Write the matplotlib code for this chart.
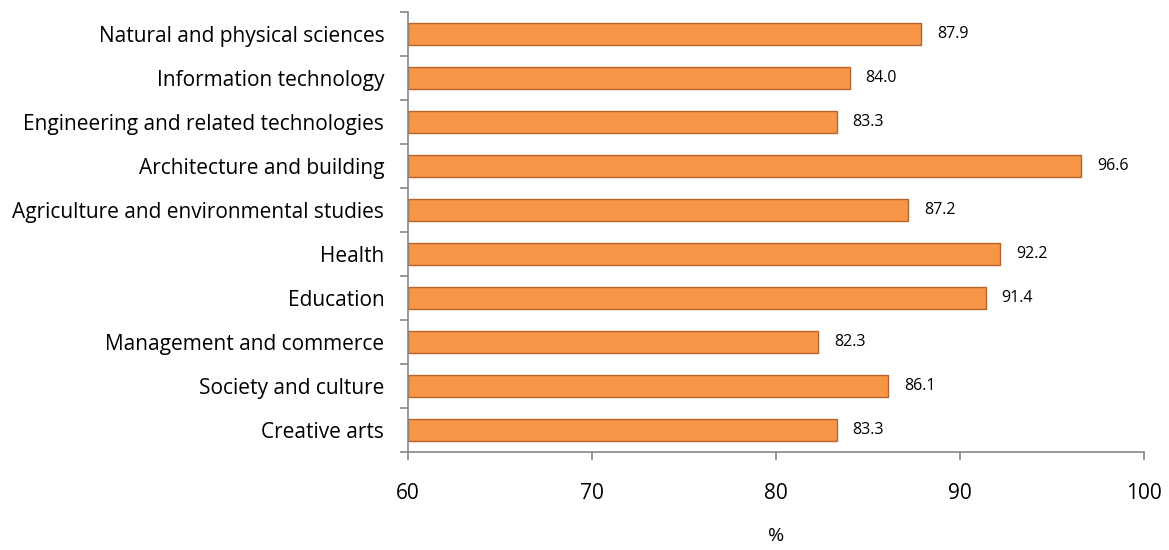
import matplotlib
matplotlib.use('Agg')
from matplotlib import pyplot as plt

plt.rcParams['font.family'] = ['Open Sans', 'DejaVu Sans']

categories = ['Natural and physical sciences', 'Information technology',
              'Engineering and related technologies', 'Architecture and building',
              'Agriculture and environmental studies', 'Health', 'Education',
              'Management and commerce', 'Society and culture', 'Creative arts']
values = [87.9, 84.0, 83.3, 96.6, 87.2, 92.2, 91.4, 82.3, 86.1, 83.3]
xticks = [60, 70, 80, 90, 100]

fig = plt.figure(figsize=(11.69, 5.5), dpi=100)
ax = fig.add_axes([0.349, 0.1782, 0.6296, 0.8])

pos = list(range(len(categories)))[::-1]
ax.barh(pos, [v - 60 for v in values], left=60, height=0.52,
        color='#F79646', edgecolor='#B9652A', linewidth=1)

for p, v in zip(pos, values):
    ax.text(v + 0.85, p, '%.1f' % v, va='center', ha='left', fontsize=11.5)

ax.set_xlim(60, 100)
ax.set_ylim(-0.5, len(categories) - 0.5)
ax.set_xticks(xticks)
ax.set_xticklabels([str(t) for t in xticks], fontsize=15)

# category labels on minor ticks, separator ticks on major
ax.set_yticks([p - 0.5 for p in range(len(categories) + 1)])
ax.set_yticklabels([])
ax.set_yticks(pos, minor=True)
ax.set_yticklabels(categories, minor=True, fontsize=15)
ax.tick_params(axis='y', which='minor', length=0, pad=17)
ax.tick_params(axis='y', which='major', length=6, color='#888888', width=1.2)
ax.tick_params(axis='x', length=6, color='#888888', width=1.2, pad=16)

for s in ['top', 'right']:
    ax.spines[s].set_visible(False)
for s in ['left', 'bottom']:
    ax.spines[s].set_color('#888888')
    ax.spines[s].set_linewidth(1.2)

ax.set_xlabel('%', fontsize=14, labelpad=17)

fig.savefig('out.png', dpi=100)
